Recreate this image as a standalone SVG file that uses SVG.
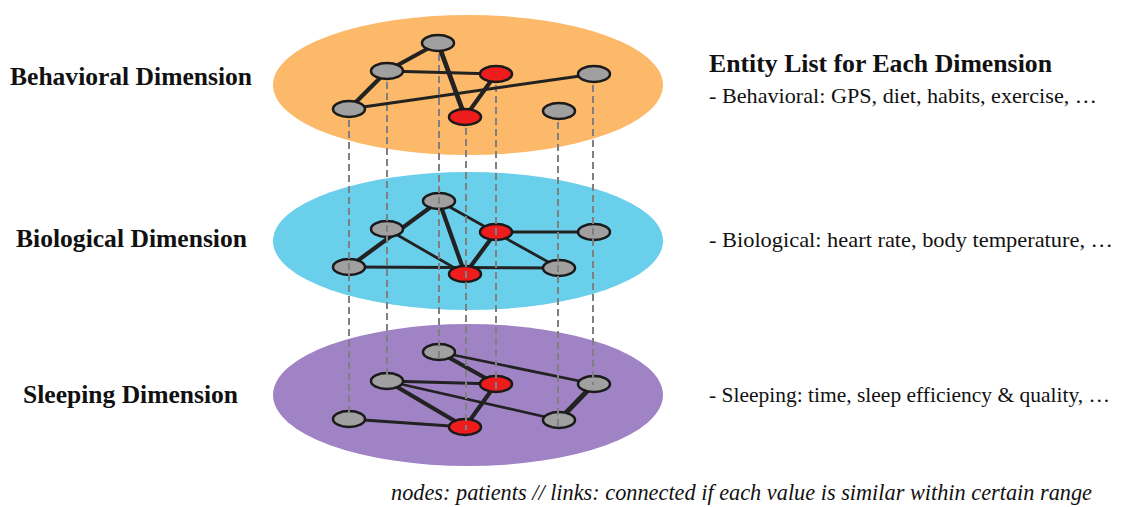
<svg xmlns="http://www.w3.org/2000/svg" width="1131" height="507" viewBox="0 0 1131 507">
<defs>
<style>
.bg{fill:#fff}
.e1{fill:#FDB96A}
.e2{fill:#6ACFEB}
.e3{fill:#A083C4}
.g{fill:#A0A0A0;stroke:#1a1a1a;stroke-width:2.5}
.r{fill:#EE1C1C;stroke:#1a1a1a;stroke-width:2.5}
.t{stroke:#222;stroke-width:2.8;fill:none;stroke-linecap:round}
.k{stroke:#222;stroke-width:4.2;fill:none;stroke-linecap:round}
.d{stroke:#808080;stroke-width:2;stroke-dasharray:7 4;fill:none}
.lab{font-family:"Liberation Serif","Times New Roman",serif;font-weight:bold;font-size:25.5px;fill:#111}
.txt{font-family:"Liberation Serif","Times New Roman",serif;font-size:22px;fill:#111}
.cap{font-family:"Liberation Serif","DejaVu Serif","Times New Roman",serif;font-style:italic;font-size:23px;fill:#111}
</style>
</defs>
<rect class="bg" x="0" y="0" width="1131" height="507"/>

<g id="layer-sleeping">
<ellipse class="e3" cx="468" cy="395" rx="195" ry="71"/>
<g id="edges-sleeping">
<line class="k" x1="439" y1="352" x2="496" y2="384"/>
<line class="t" x1="439" y1="352" x2="594" y2="384"/>
<line class="t" x1="387" y1="381" x2="496" y2="384"/>
<line class="k" x1="387" y1="381" x2="465" y2="427"/>
<line class="t" x1="387" y1="381" x2="559" y2="420"/>
<line class="k" x1="496" y1="384" x2="465" y2="427"/>
<line class="k" x1="594" y1="384" x2="559" y2="420" style="stroke-width:5"/>
<line class="t" x1="349" y1="419" x2="465" y2="427"/>
</g>
<g id="nodes-sleeping">
<ellipse id="s1" class="g" cx="439" cy="352" rx="16" ry="8"/>
<ellipse id="s2" class="g" cx="387" cy="381" rx="16" ry="8"/>
<ellipse id="s3" class="r" cx="496" cy="384" rx="16" ry="8"/>
<ellipse id="s4" class="g" cx="594" cy="384" rx="16" ry="8"/>
<ellipse id="s5" class="g" cx="349" cy="419" rx="16" ry="8"/>
<ellipse id="s6" class="r" cx="465" cy="427" rx="16" ry="8"/>
<ellipse id="s7" class="g" cx="559" cy="420" rx="16" ry="8"/>
</g>
</g>

<g id="layer-biological">
<ellipse class="e2" cx="468" cy="241" rx="195" ry="69"/>
<g id="edges-biological">
<line class="k" x1="439" y1="201" x2="349" y2="267"/>
<line class="t" x1="387" y1="229" x2="465" y2="274"/>
<line class="k" x1="439" y1="201" x2="465" y2="274"/>
<line class="t" x1="439" y1="201" x2="559" y2="268"/>
<line class="t" x1="496" y1="232" x2="594" y2="232"/>
<line class="k" x1="496" y1="232" x2="465" y2="274"/>
<line class="t" x1="349" y1="267" x2="559" y2="268"/>
</g>
<g id="nodes-biological">
<ellipse id="b1" class="g" cx="439" cy="201" rx="16" ry="8"/>
<ellipse id="b2" class="g" cx="387" cy="229" rx="16" ry="8"/>
<ellipse id="b3" class="r" cx="496" cy="232" rx="16" ry="8"/>
<ellipse id="b4" class="g" cx="594" cy="232" rx="16" ry="8"/>
<ellipse id="b5" class="g" cx="349" cy="267" rx="16" ry="8"/>
<ellipse id="b6" class="r" cx="465" cy="274" rx="16" ry="8"/>
<ellipse id="b7" class="g" cx="559" cy="268" rx="16" ry="8"/>
</g>
</g>

<ellipse id="layer-behavioral-disc" class="e1" cx="468" cy="85" rx="195" ry="70"/>

<g id="connectors">
<line class="d" x1="349" y1="109" x2="349" y2="414"/>
<line class="d" x1="387" y1="71" x2="387" y2="379"/>
<line class="d" x1="439" y1="43" x2="439" y2="360"/>
<line class="d" x1="466" y1="117" x2="466" y2="430"/>
<line class="d" x1="496" y1="74" x2="496" y2="393"/>
<line class="d" x1="558" y1="111" x2="558" y2="428"/>
<line class="d" x1="593" y1="74" x2="593" y2="385"/>
</g>

<g id="layer-behavioral">
<g id="edges-behavioral">
<line class="k" x1="438" y1="43" x2="387" y2="71"/>
<line class="k" x1="387" y1="71" x2="349" y2="109"/>
<line class="t" x1="387" y1="71" x2="496" y2="74"/>
<line class="k" x1="438" y1="43" x2="465" y2="117" style="stroke-width:4.8"/>
<line class="k" x1="496" y1="74" x2="465" y2="117"/>
<line class="t" x1="349" y1="109" x2="594" y2="74"/>
</g>
<g id="nodes-behavioral">
<ellipse id="h1" class="g" cx="438" cy="43" rx="16" ry="8"/>
<ellipse id="h2" class="g" cx="387" cy="71" rx="16" ry="8"/>
<ellipse id="h3" class="r" cx="496" cy="74" rx="16" ry="8"/>
<ellipse id="h4" class="g" cx="594" cy="74" rx="16" ry="8"/>
<ellipse id="h5" class="g" cx="349" cy="109" rx="16" ry="8"/>
<ellipse id="h6" class="r" cx="465" cy="117" rx="16" ry="8"/>
<ellipse id="h7" class="g" cx="559" cy="111" rx="16" ry="8"/>
</g>
</g>

<g id="labels">
<text class="lab" x="10" y="85" textLength="242" lengthAdjust="spacingAndGlyphs">Behavioral Dimension</text>
<text class="lab" x="16" y="247" textLength="231" lengthAdjust="spacingAndGlyphs">Biological Dimension</text>
<text class="lab" x="23" y="403" textLength="215" lengthAdjust="spacingAndGlyphs">Sleeping Dimension</text>
</g>

<g id="entity-list">
<text class="lab" x="709" y="72" textLength="343" lengthAdjust="spacingAndGlyphs">Entity List for Each Dimension</text>
<text class="txt" x="709" y="103" textLength="388" lengthAdjust="spacingAndGlyphs">- Behavioral: GPS, diet, habits, exercise, …</text>
<text class="txt" x="709" y="247" textLength="404" lengthAdjust="spacingAndGlyphs">- Biological: heart rate, body temperature, …</text>
<text class="txt" x="709" y="402" textLength="401" lengthAdjust="spacingAndGlyphs">- Sleeping: time, sleep efficiency &amp; quality, …</text>
</g>

<text id="caption" class="cap" x="391" y="500" textLength="701" lengthAdjust="spacingAndGlyphs">nodes: patients // links: connected if each value is similar within certain range</text>
</svg>
